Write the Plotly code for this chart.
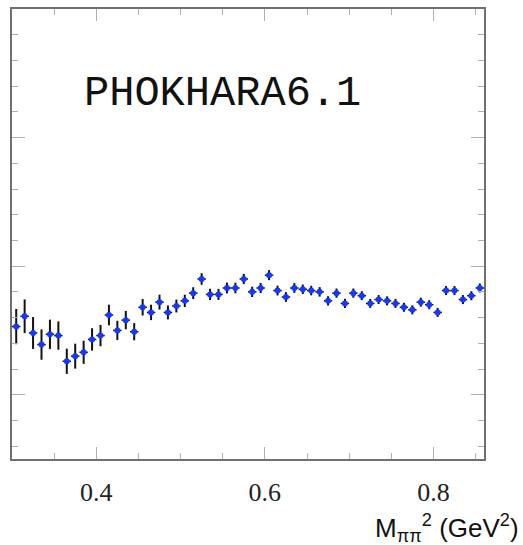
import plotly.graph_objects as go

# bin centres in M_pipi^2 (GeV^2)
x_vals = [round(0.305 + 0.01 * i, 3) for i in range(56)]
y_vals = [0.953, 0.961, 0.948, 0.939, 0.947, 0.946, 0.926, 0.930, 0.933, 0.943,
          0.946, 0.962, 0.950, 0.958, 0.949, 0.968, 0.964, 0.972, 0.964, 0.969,
          0.973, 0.979, 0.990, 0.978, 0.978, 0.983, 0.983, 0.990, 0.980, 0.983,
          0.993, 0.981, 0.976, 0.983, 0.982, 0.981, 0.980, 0.973, 0.979, 0.971,
          0.979, 0.977, 0.971, 0.974, 0.973, 0.971, 0.968, 0.966, 0.972, 0.970,
          0.964, 0.981, 0.981, 0.974, 0.977, 0.983]
y_err = [0.0137, 0.0131, 0.0124, 0.0118, 0.0114, 0.0110, 0.0098, 0.0097, 0.0090, 0.0087,
         0.0083, 0.0080, 0.0075, 0.0071, 0.0067, 0.0064, 0.0060, 0.0058, 0.0054, 0.0050,
         0.0048, 0.0046, 0.0045, 0.0044, 0.0043, 0.0042, 0.0041, 0.0040, 0.0040, 0.0039,
         0.0039, 0.0038, 0.0038, 0.0038, 0.0037, 0.0037, 0.0037, 0.0036, 0.0036, 0.0036,
         0.0036, 0.0035, 0.0035, 0.0035, 0.0035, 0.0035, 0.0035, 0.0035, 0.0035, 0.0035,
         0.0035, 0.0035, 0.0035, 0.0035, 0.0035, 0.0035]
x_half_bin = 0.005

label_text = "PHOKHARA6.1"
x_title = "M<sub>ππ</sub><sup>2</sup> (GeV<sup>2</sup>)"

fig = go.Figure()
fig.add_trace(go.Scatter(
    x=x_vals, y=y_vals, mode="markers",
    marker=dict(color="#1438ff", size=6, symbol="circle"),
    error_y=dict(type="data", array=y_err, color="#111111", thickness=2, width=0),
    error_x=dict(type="constant", value=x_half_bin, color="#111111", thickness=1.5, width=0),
    showlegend=False,
))

fig.update_layout(
    width=523, height=545,
    margin=dict(l=12, r=39, t=7, b=86),
    plot_bgcolor="white", paper_bgcolor="white",
    xaxis=dict(
        range=[0.3, 0.86], showgrid=False, zeroline=False,
        showline=True, linecolor="#707070", linewidth=1.5, mirror="ticks",
        ticks="inside", ticklen=12, tickcolor="#b0b0b0", tickwidth=1,
        tick0=0, dtick=0.2, tickformat=".1f",
        tickfont=dict(family="Liberation Serif", size=26, color="#222222"),
        ticklabelstandoff=9,
        minor=dict(ticks="inside", ticklen=6, tickcolor="#b0b0b0", tickwidth=1,
                   tick0=0, dtick=0.05, showgrid=False),
    ),
    yaxis=dict(
        range=[0.85, 1.2], showgrid=False, zeroline=False,
        showline=True, linecolor="#707070", linewidth=1.5, mirror="ticks",
        ticks="inside", ticklen=13, tickcolor="#b0b0b0", tickwidth=1,
        tick0=1.0, dtick=0.1, showticklabels=False,
        minor=dict(ticks="inside", ticklen=6, tickcolor="#b0b0b0", tickwidth=1,
                   tick0=1.0, dtick=0.02, showgrid=False),
    ),
    annotations=[
        dict(text=label_text, xref="paper", yref="paper", x=(82 - 12) / 472, y=(459 - 92) / 452,
             xanchor="left", yanchor="middle", showarrow=False,
             font=dict(family="Courier New, Nimbus Mono PS, FreeMono, Liberation Mono",
                       size=42, color="#111111")),
        dict(text=x_title, xref="paper", yref="paper", x=(521 - 12) / 472, y=-(528 - 459) / 452,
             xanchor="right", yanchor="middle", showarrow=False,
             font=dict(family="Liberation Sans", size=26, color="#111111")),
    ],
)

fig.write_html("out.html")
